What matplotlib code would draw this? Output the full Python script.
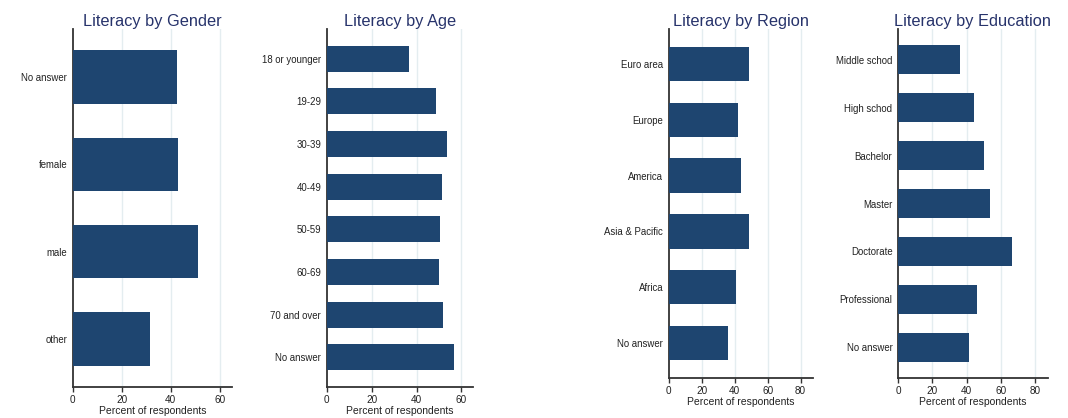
import matplotlib
matplotlib.use("Agg")
import matplotlib.pyplot as plt

plt.rcParams["font.family"] = ["Liberation Sans", "DejaVu Sans"]

# ── Data ────────────────────────────────────────────────────────────────────
gender_labels = ["No answer", "female", "male", "other"]
gender_values = [42.6, 42.8, 51.1, 31.6]

age_labels = ["18 or younger", "19-29", "30-39", "40-49", "50-59", "60-69",
              "70 and over", "No answer"]
age_values = [36.6, 48.6, 53.6, 51.2, 50.3, 49.8, 51.7, 56.7]

region_labels = ["Euro area", "Europe", "America", "Asia & Pacific", "Africa",
                 "No answer"]
region_values = [48.7, 42.2, 44.0, 48.5, 41.0, 35.9]

edu_labels = ["Middle schod", "High schod", "Bachelor", "Master", "Doctorate",
              "Professional", "No answer"]
edu_values = [36.1, 44.4, 50.3, 53.6, 66.2, 46.0, 41.4]

BAR = "#1E4570"
TITLE = "#27336B"
GRID = "#E4EDF0"
W, H = 1068, 418

fig = plt.figure(figsize=(W / 100, H / 100), dpi=100)
fig.patch.set_facecolor("white")


def panel(rect_px, title, labels, values, xmax, xticks, pad):
    x0, x1, y0, y1 = rect_px
    ax = fig.add_axes([x0 / W, 1 - y1 / H, (x1 - x0) / W, (y1 - y0) / H])
    n = len(labels)
    pos = list(range(n))
    ax.barh(pos, values, height=0.61, color=BAR, zorder=3)
    ax.set_ylim(n - 1 + pad, -pad)
    ax.set_xlim(0, xmax)
    ax.set_yticks(pos)
    ax.set_yticklabels(labels, fontsize=6.9, color="#222222")
    ax.set_xticks(xticks)
    ax.set_xticklabels([str(t) for t in xticks], fontsize=7.2, color="#222222")
    ax.tick_params(axis="y", length=0, pad=4)
    ax.tick_params(axis="x", length=3.5, width=1, color="#333333", pad=2)
    for t in xticks[1:]:
        ax.axvline(t, color=GRID, linewidth=1.0, zorder=1)
    for s in ["top", "right"]:
        ax.spines[s].set_visible(False)
    for s in ["left", "bottom"]:
        ax.spines[s].set_color("#333333")
        ax.spines[s].set_linewidth(1.3)
    ax.set_xlabel("Percent of respondents", fontsize=7.5, color="#222222",
                  labelpad=1)
    ax.set_title(title, fontsize=11.8, color=TITLE, pad=2.5)
    return ax


panel((72.7, 232, 29, 387), "Literacy by Gender", gender_labels,
      gender_values, 65, [0, 20, 40, 60], 0.55)
panel((326.7, 472.7, 29, 387), "Literacy by Age", age_labels,
      age_values, 65, [0, 20, 40, 60], 0.70)
panel((668.7, 812.7, 29, 378), "Literacy by Region", region_labels,
      region_values, 87.3, [0, 20, 40, 60, 80], 0.62)
panel((898, 1047.7, 29, 378), "Literacy by Education", edu_labels,
      edu_values, 87.2, [0, 20, 40, 60, 80], 0.64)

fig.savefig("out.png", dpi=100)
